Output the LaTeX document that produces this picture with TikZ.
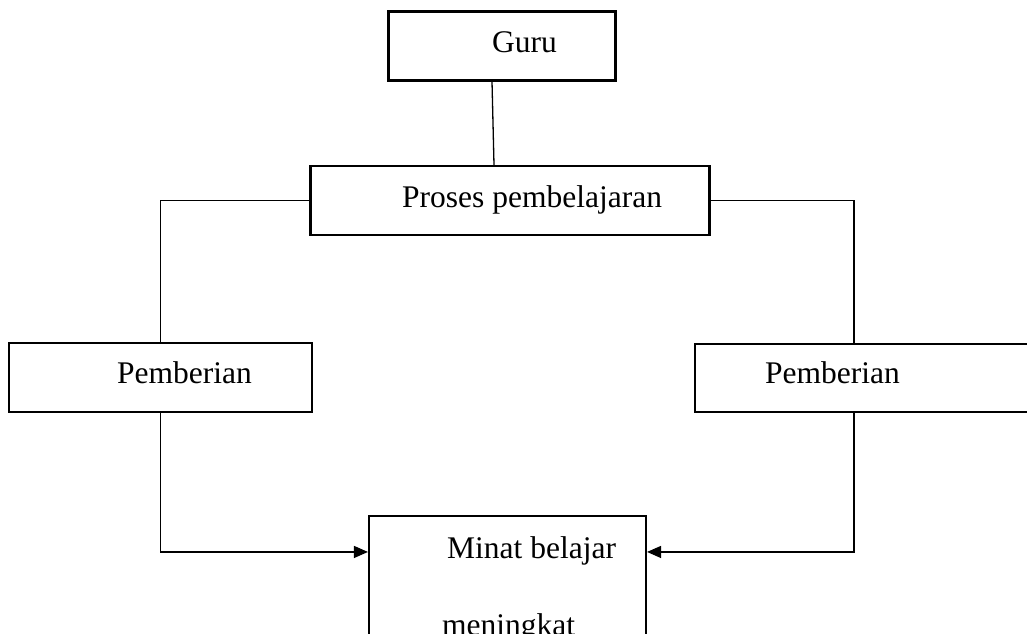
\documentclass[tikz,border=0pt]{standalone}
\usepackage{fontspec}
\setmainfont{Liberation Serif}
\usetikzlibrary{arrows.meta,calc}
\begin{document}
\begin{tikzpicture}[x=1pt,y=-1pt,
  box/.style={draw,line width=2.1pt,rectangle,inner sep=0pt},
  lbl/.style={anchor=base west,inner sep=0pt,font=\fontsize{31.5}{36}\selectfont},
  conn/.style={line width=1.3pt},
  arr/.style={line width=1.3pt,-{Triangle[length=14pt,width=12pt]}}]
\useasboundingbox (0,0) rectangle (1027,633);
\clip (0,0) rectangle (1027,633);
\fill[white] (0,0) rectangle (1027,633);
% boxes
\node[box,minimum width=227pt,minimum height=69pt] (guru) at (502,46) {};
\node[box,minimum width=399pt,minimum height=69pt] (proses) at (510,200.5) {};
\node[box,minimum width=303pt,minimum height=69pt] (pl) at (160.5,377.5) {};
\node[box,minimum width=340pt,minimum height=68pt] (pr) at (865,378) {};
\node[box,minimum width=277pt,minimum height=190pt] (minat) at (507.5,611) {};
% texts
\node[lbl] (tguru) at (492,52) {Guru};
\node[lbl] (tproses) at (402,207) {Proses pembelajaran};
\node[lbl] (tpl) at (117,383) {Pemberian};
\node[lbl] (tpr) at (765,383) {Pemberian};
\node[lbl] (tminat1) at (447,558) {Minat belajar};
\node[lbl] (tminat2) at (442,635) {meningkat};
% connectors
\draw[conn] ([xshift=-10pt]guru.south) -- ([xshift=-16pt]proses.north);
\draw[conn] (proses.west) -| (pl.north);
\draw[conn] (proses.east) -| ([xshift=160pt]pr.north west);
\draw[arr] (pl.south) |- ([yshift=-37pt]minat.north west);
\draw[arr] ([xshift=160pt]pr.south west) |- ([yshift=-37pt]minat.north east);
\end{tikzpicture}
\end{document}
